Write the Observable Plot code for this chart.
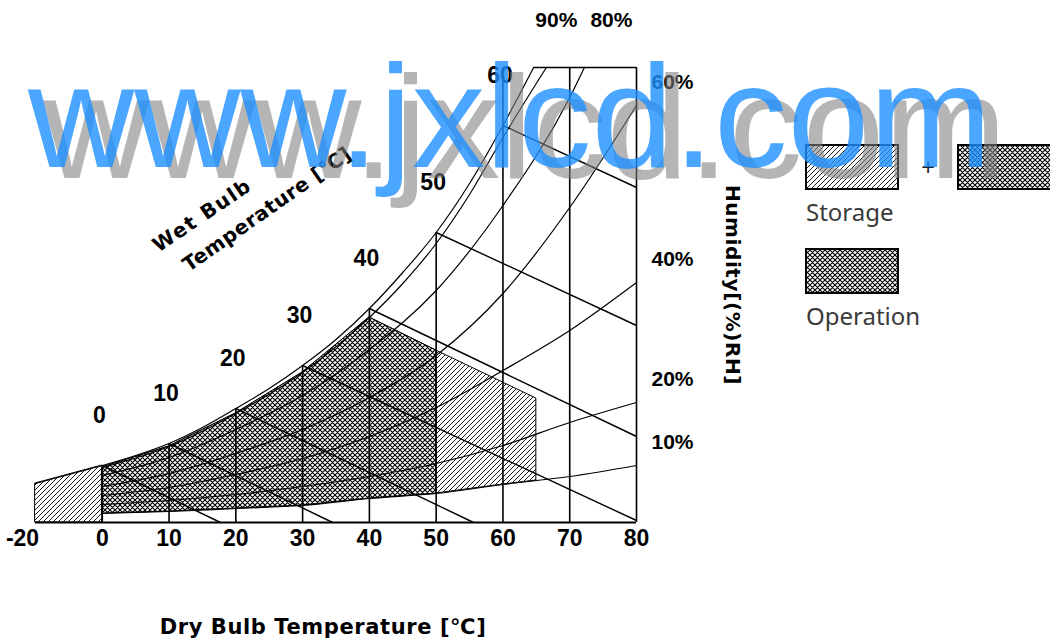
<!DOCTYPE html>
<html><head><meta charset="utf-8">
<script src="https://cdn.jsdelivr.net/npm/d3@7"></script>
<script src="https://cdn.jsdelivr.net/npm/@observablehq/plot@0.6"></script>
<style>
html,body{margin:0;padding:0;background:#fff;}
#chart{position:relative;width:1050px;height:644px;overflow:hidden;}
</style>
</head><body><div id="chart"></div>
<script>
// ---- data (dry bulb temperature °C, humidity) ----
const dryBulbTicks = [-20, 0, 10, 20, 30, 40, 50, 60, 70, 80];

const satT  = [-20, -10, 0, 5, 10, 15, 20, 25, 30, 35, 40, 45, 50, 55, 60, 64.6];
const satV  = [39, 48, 57, 67, 79, 95, 114, 134, 157, 183, 214, 250, 290, 339, 397, 455];
const rh90T = [0, 10, 20, 30, 40, 45, 50, 55, 60, 66.5];
const rh90V = [55, 76, 109, 150, 205, 239, 279, 328, 385, 455];
const rh80T = [0, 10, 20, 30, 40, 50, 60, 70, 72.2];
const rh80V = [47, 65, 93, 127, 173, 232, 317, 425, 455];
const rhT   = [0, 10, 20, 30, 40, 50, 60, 70, 80];
const rh60V = [36, 49, 69, 93, 125, 167, 229, 315, 417];
const rh40V = [27, 35, 48, 64, 86, 115, 152, 192, 240];
const rh20V = [18, 22, 28, 36, 46, 59, 77, 100, 120];
const rh10V = [9, 11, 14, 17, 24, 29, 38, 46, 57];

const wbT      = [0, 10, 20, 30, 40, 50, 60];
const wbStartV = [57, 79, 114, 157, 214, 290, 397];
const wbEndT   = [17.7, 34.5, 55.6, 80, 80, 80, 80];
const wbEndV   = [0, 0, 0, 2, 86, 197, 335];

const gridT    = [0, 10, 20, 30, 40, 50, 60, 70, 80];
const gridTopV = [57, 79, 114, 157, 214, 290, 455, 455, 455];

const storageT    = [-20, -10, 0, 0, 10, 20, 30, 40, 50, 60, 65];
const storageLow  = [0, 0, 0, 9, 11, 14, 17, 24, 29, 38, 42];
const storageHigh = [39, 48, 57, 55, 76, 109, 150, 205, 172, 140, 124];
const operationT    = [0, 10, 20, 30, 40, 50];
const operationLow  = [9, 11, 14, 17, 24, 29];
const operationHigh = [55, 76, 109, 150, 205, 172];

const sideLabels = ["60%", "40%", "20%", "10%"];
const sideEndV   = [rh60V.at(-1), rh40V.at(-1), rh20V.at(-1), rh10V.at(-1)];

// ---- derived tables ----
const curves = [
  {name: "100%", t: satT, v: satV},
  {name: "90%", t: rh90T, v: rh90V},
  {name: "80%", t: rh80T, v: rh80V},
  {name: "60%", t: rhT, v: rh60V},
  {name: "40%", t: rhT, v: rh40V},
  {name: "20%", t: rhT, v: rh20V},
  {name: "10%", t: rhT, v: rh10V}
];
const curveRows = curves.flatMap(c => c.t.map((t, i) => ({curve: c.name, t, v: c.v[i]})));
const wbRows = wbT.map((t, i) => ({t, v0: wbStartV[i], t1: wbEndT[i], v1: wbEndV[i]}));
const gridRows = gridT.map((t, i) => ({t, top: gridTopV[i]}));
const storageRows = storageT.map((t, i) => ({t, lo: storageLow[i], hi: storageHigh[i]}));
const operationRows = operationT.map((t, i) => ({t, lo: operationLow[i], hi: operationHigh[i]}));
const sideRows = sideLabels.map((s, i) => ({s, v: sideEndV[i]}));

const NUM = '"Liberation Sans", Arial, sans-serif';

// below 0 °C the chart's temperature axis is drawn at half scale
const compress = t => (t < 0 ? t / 2 : t);

const numText = {fontSize: 23, fontWeight: "bold", fontFamily: NUM, fill: "#000"};

const plot = Plot.plot({
  width: 1050,
  height: 644,
  marginLeft: 35, marginRight: 414, marginTop: 67, marginBottom: 122,
  x: {domain: [-10, 80], transform: compress, axis: null},
  y: {domain: [0, 455], axis: null},
  style: {background: "transparent", overflow: "visible"},
  marks: [
    Plot.areaY(storageRows, {x: "t", y1: "lo", y2: "hi", fill: "url(#hatchS)", stroke: "#000", strokeWidth: 1}),
    Plot.areaY(operationRows, {x: "t", y1: "lo", y2: "hi", fill: "url(#hatchO)", stroke: "#000", strokeWidth: 1}),
    Plot.ruleX(gridRows, {x: "t", y1: () => 0, y2: "top", stroke: "#000", strokeWidth: 1.6}),
    Plot.ruleY([455], {x1: () => satT.at(-1), x2: () => 80, stroke: "#000", strokeWidth: 1.6}),
    Plot.ruleY([0], {x1: () => -20, x2: () => 80, stroke: "#000", strokeWidth: 2.2}),
    Plot.line(curveRows, {x: "t", y: "v", z: "curve", stroke: "#000", strokeWidth: 1.2, curve: "monotone-x"}),
    Plot.link(wbRows, {x1: "t", y1: "v0", x2: "t1", y2: "v1", stroke: "#000", strokeWidth: 1.4}),
    Plot.text(dryBulbTicks.filter(d => d > -20), {x: d => d, y: () => 0, text: d => String(d), dy: 16, ...numText}),
    Plot.text(dryBulbTicks.filter(d => d === -20), {x: d => d, y: () => 0, text: d => String(d), dy: 16, dx: -13, ...numText}),
    Plot.text(wbRows, {x: "t", y: "v0", text: d => String(d.t), dx: -3, dy: -50, ...numText}),
    Plot.text(sideRows, {x: () => 80, y: "v", text: "s", dx: 36, dy: -23, ...numText, fontSize: 21}),
    Plot.text(["90%"], {x: () => rh90T.at(-1), y: () => 455, text: d => d, dx: 10, dy: -47, ...numText, fontSize: 21}),
    Plot.text(["80%"], {x: () => rh80T.at(-1), y: () => 455, text: d => d, dx: 27, dy: -47, ...numText, fontSize: 21})
  ]
});

document.getElementById("chart").appendChild(plot);

// ---- patterns, titles, legend, watermark ----
const svg = d3.select(plot);
const defs = svg.insert("defs", ":first-child");
const pS = defs.append("pattern").attr("id", "hatchS").attr("patternUnits", "userSpaceOnUse")
  .attr("width", 5).attr("height", 5);
pS.append("rect").attr("width", 5).attr("height", 5).attr("fill", "#fff");
pS.append("path").attr("d", "M-1,6 L6,-1 M-1,1 L1,-1 M4,6 L6,4")
  .attr("stroke", "#000").attr("stroke-width", 0.9).attr("fill", "none");
const pO = defs.append("pattern").attr("id", "hatchO").attr("patternUnits", "userSpaceOnUse")
  .attr("width", 5).attr("height", 5);
pO.append("rect").attr("width", 5).attr("height", 5).attr("fill", "#fff");
pO.append("path").attr("d", "M-1,6 L6,-1 M-1,1 L1,-1 M4,6 L6,4 M-1,-1 L6,6 M4,-1 L6,1 M-1,4 L1,6")
  .attr("stroke", "#000").attr("stroke-width", 1.15).attr("fill", "none");

const BOLD = '"DejaVu Sans", Verdana, sans-serif';
const g = svg.append("g").attr("text-anchor", "start");

g.append("text").attr("transform", "translate(202,215) rotate(-34)")
  .attr("text-anchor", "middle").attr("dominant-baseline", "central")
  .attr("font-family", BOLD).attr("font-weight", "bold").attr("font-size", 20)
  .attr("letter-spacing", 1.5).text("Wet Bulb");
g.append("text").attr("transform", "translate(267,209) rotate(-35)")
  .attr("text-anchor", "middle").attr("dominant-baseline", "central")
  .attr("font-family", BOLD).attr("font-weight", "bold").attr("font-size", 20)
  .attr("letter-spacing", 0.5).text("Temperature [℃]");

g.append("text").attr("transform", "translate(733,285) rotate(90)")
  .attr("text-anchor", "middle").attr("dominant-baseline", "central")
  .attr("font-family", BOLD).attr("font-weight", "bold").attr("font-size", 20)
  .attr("letter-spacing", 0.6).text("Humidity[(%)RH]");

g.append("text").attr("x", 323).attr("y", 627)
  .attr("text-anchor", "middle").attr("dominant-baseline", "central")
  .attr("font-family", BOLD).attr("font-weight", "bold").attr("font-size", 21)
  .attr("letter-spacing", 0.6).text("Dry Bulb Temperature [℃]");

// legend
g.append("rect").attr("x", 806).attr("y", 145).attr("width", 92).attr("height", 44)
  .attr("fill", "url(#hatchS)").attr("stroke", "#000").attr("stroke-width", 2);
g.append("text").attr("x", 928).attr("y", 166).attr("text-anchor", "middle").attr("dominant-baseline", "central")
  .attr("font-family", "Noto Sans, sans-serif").attr("font-size", 24).attr("fill", "#222").text("+");
g.append("rect").attr("x", 958).attr("y", 145).attr("width", 110).attr("height", 44)
  .attr("fill", "url(#hatchO)").attr("stroke", "#000").attr("stroke-width", 2);
g.append("text").attr("x", 806).attr("y", 221).attr("text-anchor", "start")
  .attr("font-family", "Noto Sans, sans-serif").attr("font-size", 24).attr("fill", "#3a3a3a").text("Storage");
g.append("rect").attr("x", 806).attr("y", 249).attr("width", 92).attr("height", 44)
  .attr("fill", "url(#hatchO)").attr("stroke", "#000").attr("stroke-width", 2);
g.append("text").attr("x", 806).attr("y", 325).attr("text-anchor", "start")
  .attr("font-family", "Noto Sans, sans-serif").attr("font-size", 24).attr("fill", "#3a3a3a").text("Operation");

// watermark
const WM = '"Liberation Sans", Arial, sans-serif';
g.append("text").attr("x", 43).attr("y", 178).attr("text-anchor", "start").attr("font-family", WM).attr("font-size", 147)
  .attr("fill", "#808080").attr("fill-opacity", 0.58).text("www.jxlcd.com");
g.append("text").attr("x", 28).attr("y", 167).attr("text-anchor", "start").attr("font-family", WM).attr("font-size", 147)
  .attr("fill", "#1e90ff").attr("fill-opacity", 0.8).text("www.jxlcd.com");
</script>
</body></html>
